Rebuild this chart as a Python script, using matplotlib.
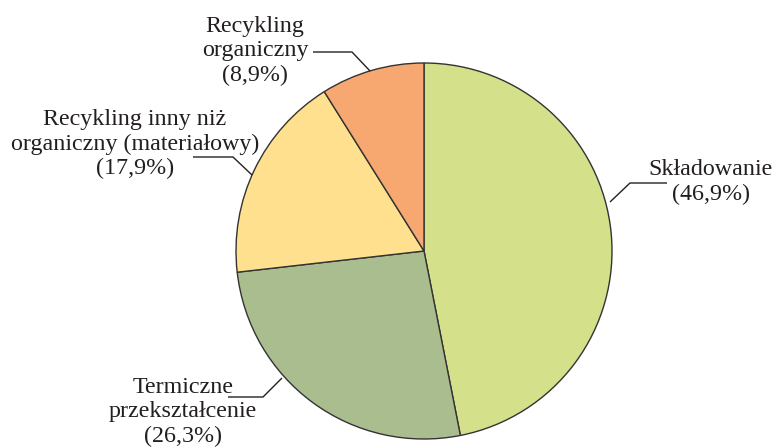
import matplotlib
matplotlib.use("Agg")
import matplotlib.pyplot as plt
import numpy as np

categories = ["Składowanie", "Termiczne\nprzekształcenie",
              "Recykling inny niż\norganiczny (materiałowy)", "Recykling\norganiczny"]
values = [46.9, 26.3, 17.9, 8.9]
value_labels = ["(46,9%)", "(26,3%)", "(17,9%)", "(8,9%)"]
colors = ["#D4E08A", "#AABD8F", "#FEE08F", "#F7A870"]

W, H = 777, 448
CX, CY, R = 424, 251, 188

fig = plt.figure(figsize=(W / 100, H / 100), dpi=100)
ax = fig.add_axes([0, 0, 1, 1])

ax.pie(values, colors=colors, startangle=90, counterclock=False, radius=1,
       center=(0, 0), frame=True,
       wedgeprops=dict(edgecolor="#333333", linewidth=1.0))
ax.set_xlim(-CX / R, (W - CX) / R)
ax.set_ylim(-(H - CY) / R, CY / R)
ax.set_aspect("auto")
ax.axis("off")


def px(x, y):
    return (x - CX) / R, (CY - y) / R


# leader lines (pixel layout): anchor, elbow, end
leaders = [
    [(610, 202), (630, 183), (667, 183)],
    [(282, 378), (263, 397), (228, 397)],
    [(252, 175), (233, 157), (193, 157)],
    [(370, 71), (352, 52), (313, 52)],
]
text_pos = [(711, 182), (183, 412), (135, 144), (255, 51)]

for cat, vl, lead, tp in zip(categories, value_labels, leaders, text_pos):
    pts = np.array([px(*p) for p in lead])
    ax.plot(pts[:, 0], pts[:, 1], color="#222222", lw=1.0, solid_capstyle="butt")
    tx, ty = px(*tp)
    ax.text(tx, ty, cat + "\n" + vl, ha="center", va="center",
            fontsize=17.3, family=["Liberation Serif", "DejaVu Serif"],
            color="#231F20", linespacing=1.22)

fig.savefig("out.png", dpi=100)
